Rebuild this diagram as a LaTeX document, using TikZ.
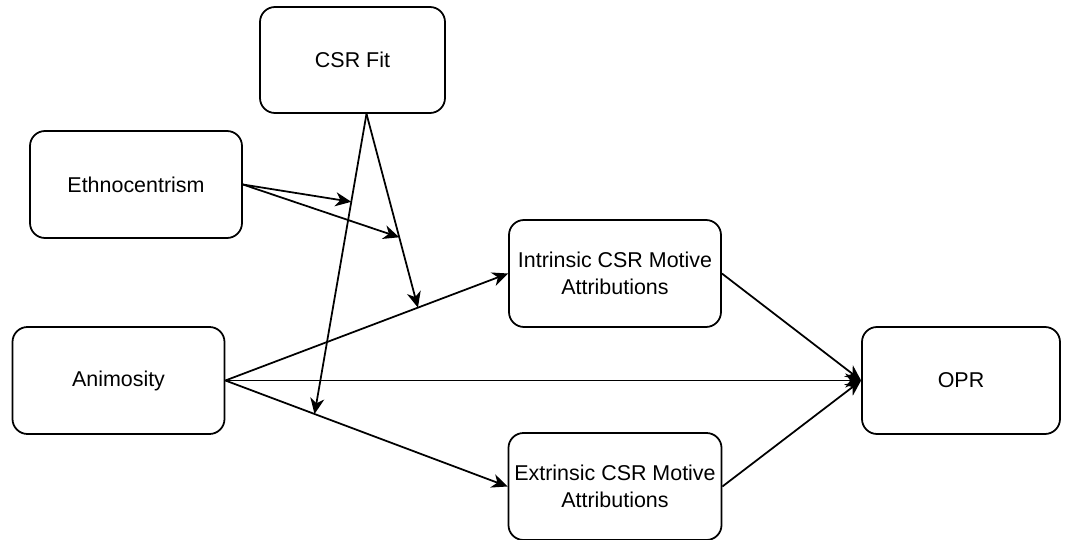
\documentclass[tikz,border=0pt]{standalone}
\usepackage{fontspec}
\setmainfont{Liberation Sans}
\usetikzlibrary{arrows.meta}

\begin{document}
\begin{tikzpicture}[>={Stealth[length=9pt,width=8pt,inset=2.8pt]},
        box/.style={draw,line width=1pt,rounded corners=0.3cm,minimum width=4.24cm,minimum height=2.14cm,align=center,font=\fontsize{12.2}{15.3}\selectfont},
        arr/.style={->,line width=1pt}]
        \useasboundingbox (0,0) rectangle (21.32,-10.8);
        % boxes
        \node[box,minimum width=3.7cm,minimum height=2.12cm] (csr) at (7.05,-1.2) {CSR Fit};
        \node[box] (eth) at (2.72,-3.69) {Ethnocentrism};
        \node[box] (ani) at (2.37,-7.61) {Animosity};
        \node[box] (intr) at (12.3,-5.47) {Intrinsic CSR Motive\\Attributions};
        \node[box] (extr) at (12.3,-9.73) {Extrinsic CSR Motive\\Attributions};
        \node[box,minimum width=3.96cm] (opr) at (19.22,-7.61) {OPR};
        % main paths
        \draw[arr] (ani.east) -- coordinate[pos=0.681] (mi) (intr.west);
        \draw[arr] (ani.east) -- coordinate[pos=0.316] (me) (extr.west);
        \draw[arr] (ani.east) -- (opr.west);
        \draw[arr] (intr.east) -- (opr.west);
        \draw[arr] (extr.east) -- (opr.west);
        % moderators
        \coordinate (csrb) at ([xshift=0.28cm]csr.south);
        \draw[arr] (csrb) -- coordinate[pos=0.637] (ci) (mi);
        \draw[arr] (csrb) -- coordinate[pos=0.293] (ce) (me);
        \draw[arr] (eth.east) -- (ce);
        \draw[arr] (eth.east) -- (ci);
\end{tikzpicture}
\end{document}
